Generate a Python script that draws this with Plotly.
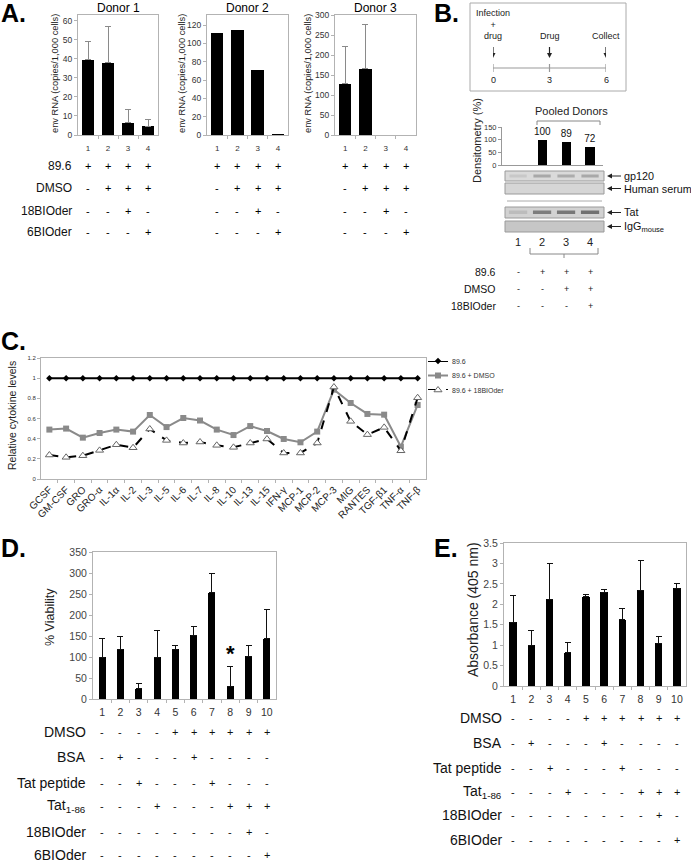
import plotly.graph_objects as go

W, H = 691, 862
FONT = "Arial, 'Liberation Sans', sans-serif"

# ---------------- data ----------------
# Panel A
donor_names = ["Donor 1", "Donor 2", "Donor 3"]
lanes_A = [1, 2, 3, 4]
donor1_vals = [39.5, 38, 6.5, 4.7]
donor1_err = [9.5, 19, 7, 3.3]
donor2_vals = [111, 115, 71, 1]
donor3_vals = [128, 166, 0, 0]
donor3_err = [94, 111, 0, 0]
yticks_A = [[0, 10, 20, 30, 40, 50, 60], [0, 20, 40, 60, 80, 100, 120], [0, 50, 100, 150, 200, 250, 300]]
ymax_A = [63, 131, 300]
rows_A = ["89.6", "DMSO", "18BIOder", "6BIOder"]
signs_A = [["+", "+", "+", "+"], ["-", "+", "+", "+"], ["-", "-", "+", "-"], ["-", "-", "-", "+"]]

# Panel B
lanes_B = [1, 2, 3, 4]
dens_lanes = [2, 3, 4]
dens_vals = [100, 89, 72]
yticks_B = [0, 50, 100, 150]
timeline_days = [0, 3, 6]
timeline_events = ["Infection<br>+<br>drug", "Drug", "Collect"]
blot_labels = ["gp120", "Human serum", "Tat", "IgG<sub>mouse</sub>"]
rows_B = ["89.6", "DMSO", "18BIOder"]
signs_B = [["-", "+", "+", "+"], ["-", "-", "+", "+"], ["-", "-", "-", "+"]]

# Panel C
cytokines = ["GCSF", "GM-CSF", "GRO", "GRO-α", "IL-1α", "IL-2", "IL-3", "IL-5", "IL-6", "IL-7",
             "IL-8", "IL-10", "IL-13", "IL-15", "IFN-γ", "MCP-1", "MCP-2", "MCP-3", "MIG",
             "RANTES", "TGF-β1", "TNF-α", "TNF-β"]
c_896 = [1, 1, 1, 1, 1, 1, 1, 1, 1, 1, 1, 1, 1, 1, 1, 1, 1, 1, 1, 1, 1, 1, 1]
c_dmso = [0.49, 0.50, 0.41, 0.456, 0.49, 0.47, 0.635, 0.515, 0.605, 0.58, 0.49, 0.436, 0.525,
          0.476, 0.397, 0.364, 0.47, 0.886, 0.754, 0.645, 0.638, 0.32, 0.734]
c_18bio = [0.238, 0.215, 0.231, 0.284, 0.34, 0.31, 0.496, 0.383, 0.357, 0.367, 0.334, 0.314,
           0.357, 0.397, 0.258, 0.258, 0.357, 0.912, 0.572, 0.44, 0.512, 0.28, 0.806]
series_C = ["89.6", "89.6 + DMSO", "89.6 + 18BIOder"]
yticks_C = [0, 0.2, 0.4, 0.6, 0.8, 1, 1.2]

# Panels D and E
lanes_DE = [1, 2, 3, 4, 5, 6, 7, 8, 9, 10]
d_vals = [100, 118, 25, 100, 118, 152, 253, 30, 102, 144]
d_err = [43, 30, 12, 63, 9, 20, 46, 48, 26, 69]
yticks_D = [0, 50, 100, 150, 200, 250, 300, 350]
e_vals = [1.56, 1.0, 2.12, 0.82, 2.19, 2.30, 1.62, 2.34, 1.05, 2.39]
e_err = [0.66, 0.37, 0.88, 0.25, 0.04, 0.05, 0.28, 0.73, 0.17, 0.12]
yticks_E = [0, 0.5, 1, 1.5, 2, 2.5, 3, 3.5]
yticklabels_E = ["0", "0.5", "1", "1.5", "2", "2.5", "3", "3.5"]
rows_DE = ["DMSO", "BSA", "Tat peptide", "Tat<sub>1-86</sub>", "18BIOder", "6BIOder"]
signs_DE = [
    ["-", "-", "-", "-", "+", "+", "+", "+", "+", "+"],
    ["-", "+", "-", "-", "-", "+", "-", "-", "-", "-"],
    ["-", "-", "+", "-", "-", "-", "+", "-", "-", "-"],
    ["-", "-", "-", "+", "-", "-", "-", "+", "+", "+"],
    ["-", "-", "-", "-", "-", "-", "-", "-", "+", "-"],
    ["-", "-", "-", "-", "-", "-", "-", "-", "-", "+"],
]


# ---------------- helpers ----------------
def fx(p):
    return p / W


def fy(p):
    return 1 - p / H


annotations = []
shapes = []


def text(x, y, s, size=12, xanchor="center", yanchor="middle", xref="paper", yref="paper",
         color="#000", angle=0):
    annotations.append(dict(x=x, y=y, text=s, xref=xref, yref=yref, showarrow=False,
                            xanchor=xanchor, yanchor=yanchor, textangle=angle, borderpad=0,
                            font=dict(size=size, color=color, family=FONT)))


BOXC = "#b3b3b3"
CLEAR = "rgba(0,0,0,0)"
fig = go.Figure()
layout = {}

# ---------------- Panel A ----------------
A_boxes = [(78, 158), (207, 288), (335, 416)]
A_series = [(donor1_vals, donor1_err), (donor2_vals, None), (donor3_vals, donor3_err)]
A_ytitle_x = [55, 182, 308]
A_rows_y = [166, 188, 211, 232]
for i, ((l, r), (vals, err)) in enumerate(zip(A_boxes, A_series)):
    n = i + 1
    xa = "x" if n == 1 else f"x{n}"
    ya = "y" if n == 1 else f"y{n}"
    kwargs = {}
    if err is not None:
        kwargs["error_y"] = dict(type="data", array=err, arrayminus=[0] * len(err), symmetric=False,
                                 color="#8a8a8a", thickness=1, width=3)
    fig.add_trace(go.Bar(x=lanes_A, y=vals, width=0.62, marker=dict(color="#000", line=dict(width=0)),
                         xaxis=xa, yaxis=ya, showlegend=False, **kwargs))
    layout["xaxis" if n == 1 else f"xaxis{n}"] = dict(
        domain=[fx(l), fx(r)], range=[0.5, 4.5], anchor=ya, showline=True, mirror=True,
        linecolor=BOXC, linewidth=1, ticks="outside", ticklen=5, tickcolor=CLEAR,
        tickvals=lanes_A, automargin=False,
        tickfont=dict(size=8, color="#333", family=FONT), showgrid=False, zeroline=False,
        minor=dict(tickvals=[1.5, 2.5, 3.5], ticks="outside", ticklen=3, tickcolor=BOXC))
    layout["yaxis" if n == 1 else f"yaxis{n}"] = dict(
        domain=[fy(135), fy(15)], range=[0, ymax_A[i]], anchor=xa, showline=True, mirror=True,
        linecolor=BOXC, linewidth=1, ticks="outside", ticklen=3, tickcolor=BOXC, automargin=False,
        tickvals=yticks_A[i], tickfont=dict(size=8.5, color="#333", family=FONT),
        showgrid=False, zeroline=False)
    text((fx(l) + fx(r)) / 2, fy(8), donor_names[i], size=12)
    text(fx(A_ytitle_x[i]), fy(74), "env RNA (copies/1,000 cells)", size=9.3, angle=-90, color="#222")
    for ri, row in enumerate(signs_A):
        for lane, s in zip(lanes_A, row):
            text(lane, fy(A_rows_y[ri]), s, size=11, xref=xa)

for ri, lab in enumerate(rows_A):
    text(fx(73), fy(A_rows_y[ri]), lab, size=12, xanchor="right", color="#111")

text(fx(0), fy(13), "<b>A.</b>", size=25, xanchor="left")

# ---------------- Panel B ----------------
text(fx(433), fy(13), "<b>B.</b>", size=25, xanchor="left")
shapes.append(dict(type="rect", xref="paper", yref="paper", x0=fx(470), x1=fx(626), y0=fy(91), y1=fy(3),
                   line=dict(color="#aaa", width=1)))
fig.add_trace(go.Scatter(x=timeline_days, y=[0, 0, 0], mode="lines+markers", xaxis="x8", yaxis="y8",
                         line=dict(color="#999", width=1.2),
                         marker=dict(symbol="line-ns", size=7, line=dict(color="#999", width=1.2)),
                         showlegend=False, hoverinfo="skip"))
layout["xaxis8"] = dict(domain=[fx(493), fx(606)], range=[0, 6], anchor="y8", visible=False)
layout["yaxis8"] = dict(domain=[fy(72), fy(64)], range=[-1, 1], anchor="x8", visible=False)
day_px = (606 - 493) / 6.0
for day, ev in zip(timeline_days, timeline_events):
    text(day, fy(42), ev, size=9, xref="x8", yanchor="bottom", color="#222")
    shapes.append(dict(type="line", xref="x8", yref="paper", x0=day, x1=day, y0=fy(47), y1=fy(55),
                       line=dict(color="#222", width=1.2)))
    hw = 2.5 / day_px
    shapes.append(dict(type="path", xref="x8", yref="paper",
                       path=f"M {day - hw},{fy(53)} L {day + hw},{fy(53)} L {day},{fy(58)} Z",
                       fillcolor="#222", line=dict(width=0)))
    text(day, fy(80), str(day), size=9, xref="x8", color="#222")

fig.add_trace(go.Bar(x=dens_lanes, y=dens_vals, width=0.38, marker=dict(color="#000", line=dict(width=0)),
                     text=[str(v) for v in dens_vals], textposition="outside", cliponaxis=False,
                     constraintext="none", textfont=dict(size=10, color="#111", family=FONT),
                     xaxis="x4", yaxis="y4", showlegend=False))
layout["xaxis4"] = dict(domain=[fx(502), fx(603)], range=[0.33, 4.54], anchor="y4", showline=True,
                        linecolor="#999", ticks="", showticklabels=False, showgrid=False, zeroline=False,
                        automargin=False)
layout["yaxis4"] = dict(domain=[fy(165), fy(127)], range=[0, 150], anchor="x4", showline=True,
                        linecolor="#999", ticks="outside", ticklen=3, tickcolor="#999", tickvals=yticks_B,
                        tickfont=dict(size=7.5, color="#333", family=FONT), showgrid=False, zeroline=False,
                        automargin=False)
text(fx(477), fy(140), "Densitometry (%)", size=11, angle=-90, color="#222")
text(fx(571), fy(111), "Pooled Donors", size=11, color="#222")
shapes.append(dict(type="path", xref="paper", yref="paper",
                   path=f"M {fx(537)},{fy(125)} L {fx(537)},{fy(121)} L {fx(600)},{fy(121)} L {fx(600)},{fy(125)}",
                   line=dict(color="#888", width=1)))

strips = [(171, 181, "#dadada"), (183, 194, "#d6d6d6"), (207, 218, "#d2d2d2"), (221, 232, "#c6c6c6")]
for (t, b, col) in strips:
    shapes.append(dict(type="rect", xref="paper", yref="paper", x0=fx(505), x1=fx(604), y0=fy(b), y1=fy(t),
                       fillcolor=col, line=dict(color="#9a9a9a", width=1)))
shapes.append(dict(type="line", xref="paper", yref="paper", x0=fx(507), x1=fx(602), y0=fy(201), y1=fy(201),
                   line=dict(color="#aaa", width=1)))
gp_band = ["#c8c8c8", "#a8a8a8", "#acacac", "#a8a8a8"]
tat_band = ["#bcbcbc", "#7d7d7d", "#777", "#707070"]
for lane, c1, c2 in zip(lanes_B, gp_band, tat_band):
    shapes.append(dict(type="rect", xref="x4", yref="paper", x0=lane - 0.36, x1=lane + 0.36,
                       y0=fy(177.5), y1=fy(174.5), fillcolor=c1, line=dict(width=0)))
    shapes.append(dict(type="rect", xref="x4", yref="paper", x0=lane - 0.38, x1=lane + 0.38,
                       y0=fy(214), y1=fy(210.5), fillcolor=c2, line=dict(width=0)))
for (t, b, _), lab in zip(strips, blot_labels):
    yc = (t + b) / 2
    shapes.append(dict(type="line", xref="paper", yref="paper", x0=fx(610), x1=fx(621), y0=fy(yc), y1=fy(yc),
                       line=dict(color="#222", width=1)))
    shapes.append(dict(type="path", xref="paper", yref="paper",
                       path=f"M {fx(612)},{fy(yc - 2.5)} L {fx(612)},{fy(yc + 2.5)} L {fx(607)},{fy(yc)} Z",
                       fillcolor="#222", line=dict(width=0)))
    text(fx(623), fy(yc), lab, size=10.8, xanchor="left", color="#111")

for lane in lanes_B:
    text(lane, fy(242), str(lane), size=11, xref="x4", color="#222")
shapes.append(dict(type="path", xref="paper", yref="paper",
                   path=f"M {fx(530)},{fy(248)} L {fx(530)},{fy(254)} L {fx(598)},{fy(254)} L {fx(598)},{fy(248)}",
                   line=dict(color="#888", width=1)))
shapes.append(dict(type="line", xref="paper", yref="paper", x0=fx(564), x1=fx(564), y0=fy(254), y1=fy(258),
                   line=dict(color="#888", width=1)))
for ri, (lab, row) in enumerate(zip(rows_B, signs_B)):
    yy = fy([272, 289, 306][ri])
    text(fx(497), yy, lab, size=10.5, xanchor="right", color="#111")
    for lane, s in zip(lanes_B, row):
        text(lane, yy, s, size=9, xref="x4", color="#222")

# ---------------- Panel C ----------------
text(fx(0), fy(341), "<b>C.</b>", size=25, xanchor="left")
xc = list(range(len(cytokines)))
styles_C = [
    dict(line=dict(color="#000", width=2), marker=dict(symbol="diamond", size=5, color="#000")),
    dict(line=dict(color="#8a8a8a", width=2), marker=dict(symbol="square", size=6, color="#8a8a8a")),
    dict(line=dict(color="#000", width=2, dash="dash"),
         marker=dict(symbol="triangle-up", size=7, color="#fff", line=dict(color="#666", width=1))),
]
for name, vals, st in zip(series_C, [c_896, c_dmso, c_18bio], styles_C):
    fig.add_trace(go.Scatter(x=xc, y=vals, mode="lines+markers", name=name, xaxis="x5", yaxis="y5",
                             showlegend=False, **st))
layout["xaxis5"] = dict(domain=[fx(41), fx(426)], range=[-0.5, len(cytokines) - 0.5], anchor="y5",
                        showline=True, mirror=True, linecolor=BOXC, ticks="", tickvals=xc, ticktext=cytokines,
                        tickangle=-45, tickfont=dict(size=10, color="#222", family=FONT),
                        showgrid=False, zeroline=False, automargin=False,
                        minor=dict(tickvals=[v + 0.5 for v in xc[:-1]], ticks="outside", ticklen=3, tickcolor=BOXC))
layout["yaxis5"] = dict(domain=[fy(479), fy(358)], range=[0, 1.2], anchor="x5", showline=True, mirror=True,
                        linecolor=BOXC, ticks="outside", ticklen=3, tickcolor=BOXC, tickvals=yticks_C,
                        tickfont=dict(size=6, color="#333", family=FONT), showgrid=False, zeroline=False,
                        automargin=False)
text(fx(12), fy(416), "Relative cytokine levels", size=10.5, angle=-90, color="#222")

# manual legend for panel C
legend_rows = [0, 1, 2]
for ri, name, st in zip(legend_rows, series_C, styles_C):
    fig.add_trace(go.Scatter(x=[0, 1, 2], y=[ri, ri, ri], mode="lines", xaxis="x9", yaxis="y9",
                             line=st["line"], showlegend=False, hoverinfo="skip"))
    fig.add_trace(go.Scatter(x=[1], y=[ri], mode="markers", xaxis="x9", yaxis="y9",
                             marker=st["marker"], showlegend=False, hoverinfo="skip", cliponaxis=False))
    text(fx(451), fy([361, 376, 390][ri]), name, size=7, xanchor="left", color="#333")
layout["xaxis9"] = dict(domain=[fx(428), fx(448)], range=[0, 2], anchor="y9", visible=False)
layout["yaxis9"] = dict(domain=[fy(390), fy(361)], range=[2, 0], anchor="x9", visible=False)

# ---------------- Panel D ----------------
text(fx(0), fy(548), "<b>D.</b>", size=25, xanchor="left")
fig.add_trace(go.Bar(x=lanes_DE, y=d_vals, width=0.38, marker=dict(color="#000", line=dict(width=0)),
                     error_y=dict(type="data", array=d_err, arrayminus=[0] * len(d_err), symmetric=False,
                                  color="#111", thickness=1, width=3),
                     xaxis="x6", yaxis="y6", showlegend=False))
layout["xaxis6"] = dict(domain=[fx(93), fx(276)], range=[0.5, 10.5], anchor="y6", showline=True, mirror=True,
                        linecolor=BOXC, ticks="outside", ticklen=3, tickcolor=CLEAR,
                        tickvals=lanes_DE, automargin=False,
                        tickfont=dict(size=10.5, color="#333", family=FONT), showgrid=False, zeroline=False,
                        minor=dict(tickvals=[v + 0.5 for v in lanes_DE[:-1]], ticks="outside", ticklen=3,
                                   tickcolor=BOXC))
layout["yaxis6"] = dict(domain=[fy(699), fy(552)], range=[0, 350], anchor="x6", showline=True, mirror=True,
                        linecolor=BOXC, ticks="outside", ticklen=3, tickcolor=BOXC, tickvals=yticks_D,
                        tickfont=dict(size=10.5, color="#444", family=FONT), showgrid=False, zeroline=False,
                        automargin=False)
text(fx(50), fy(617), "% Viability", size=12.5, angle=-90, color="#222")
text(8, 108, "<b>*</b>", size=22, xref="x6", yref="y6")
DE_rows_D = [732, 757, 783, 806, 832, 855]
for ri, (lab, row) in enumerate(zip(rows_DE, signs_DE)):
    yy = fy(DE_rows_D[ri])
    text(fx(87), yy, lab, size=14, xanchor="right", color="#111")
    for lane, s in zip(lanes_DE, row):
        text(lane, yy, s, size=11, xref="x6", color="#111")

# ---------------- Panel E ----------------
text(fx(433), fy(548), "<b>E.</b>", size=25, xanchor="left")
fig.add_trace(go.Bar(x=lanes_DE, y=e_vals, width=0.4, marker=dict(color="#000", line=dict(width=0)),
                     error_y=dict(type="data", array=e_err, arrayminus=[0] * len(e_err), symmetric=False,
                                  color="#111", thickness=1, width=3),
                     xaxis="x7", yaxis="y7", showlegend=False))
layout["xaxis7"] = dict(domain=[fx(504), fx(686)], range=[0.5, 10.5], anchor="y7", showline=True, mirror=True,
                        linecolor=BOXC, ticks="outside", ticklen=3, tickcolor=CLEAR,
                        tickvals=lanes_DE, automargin=False,
                        tickfont=dict(size=10.5, color="#333", family=FONT), showgrid=False, zeroline=False,
                        minor=dict(tickvals=[v + 0.5 for v in lanes_DE[:-1]], ticks="outside", ticklen=3,
                                   tickcolor=BOXC))
layout["yaxis7"] = dict(domain=[fy(686), fy(543)], range=[0, 3.5], anchor="x7", showline=True, mirror=True,
                        linecolor=BOXC, ticks="outside", ticklen=3, tickcolor=BOXC, tickvals=yticks_E,
                        ticktext=yticklabels_E, automargin=False,
                        tickfont=dict(size=10.5, color="#444", family=FONT), showgrid=False, zeroline=False)
text(fx(473), fy(610), "Absorbance (405 nm)", size=14, angle=-90, color="#222")
DE_rows_E = [718, 743, 768, 792, 815, 840]
for ri, (lab, row) in enumerate(zip(rows_DE, signs_DE)):
    yy = fy(DE_rows_E[ri])
    text(fx(503), yy, lab, size=14, xanchor="right", color="#111")
    for lane, s in zip(lanes_DE, row):
        text(lane, yy, s, size=11, xref="x7", color="#111")

fig.update_layout(
    template="none",
    width=W, height=H, margin=dict(l=0, r=0, t=0, b=0, pad=0, autoexpand=False),
    paper_bgcolor="#fff", plot_bgcolor="#fff",
    font=dict(family=FONT, color="#111"),
    showlegend=False,
    bargap=0,
    annotations=annotations, shapes=shapes,
    **layout,
)

fig.write_html("out.html", config={"displayModeBar": False},
               post_script="document.body.style.margin='0';document.body.style.overflow='hidden';")
